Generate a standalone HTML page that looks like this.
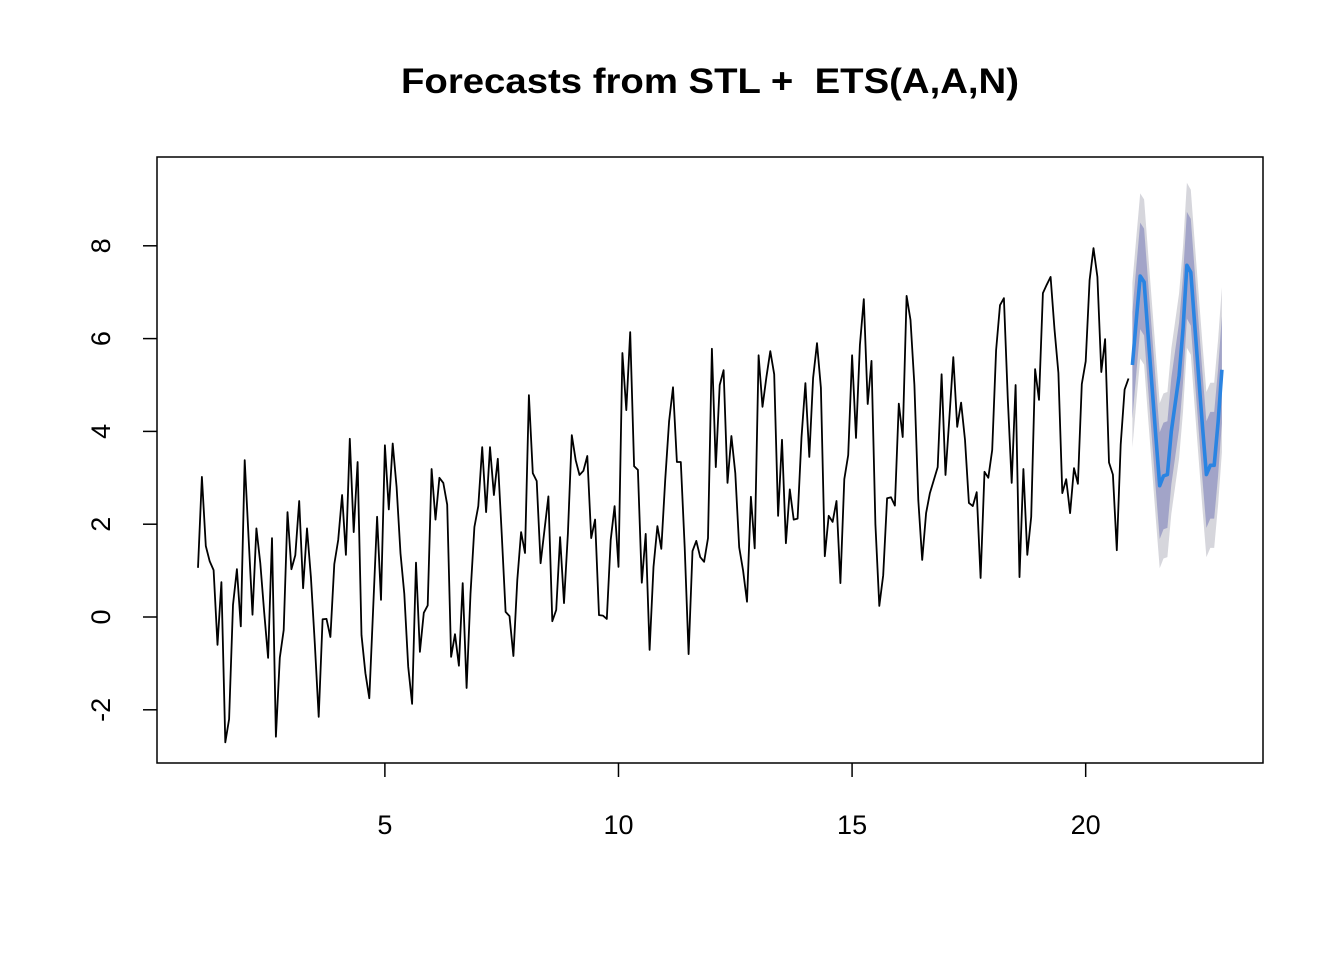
<!DOCTYPE html>
<html><head><meta charset="utf-8"><style>
html,body{margin:0;padding:0;background:#fff}
svg{display:block;font-family:"Liberation Sans",Arial,sans-serif}
</style></head><body>
<svg id="chart" width="1344" height="960" viewBox="0 0 1344 960" xmlns="http://www.w3.org/2000/svg">
<text x="710" y="93" text-anchor="middle" font-size="35" font-weight="bold" textLength="618" lengthAdjust="spacingAndGlyphs" xml:space="preserve">Forecasts from STL +  ETS(A,A,N)</text>
<rect x="157" y="157" width="1106" height="606" fill="none" stroke="#000" stroke-width="1.5"/>
<g id="bands"></g><g id="series"></g><g id="axes"></g>
</svg>
<script>
const startTime = 1;
const freq = 12;
const history = [1.06,3.02,1.53,1.2,1.01,-0.6,0.75,-2.7,-2.2,0.26,1.03,-0.2,3.38,1.7,0.05,1.91,1.16,0.1,-0.88,1.7,-2.58,-0.88,-0.28,2.26,1.03,1.33,2.5,0.62,1.91,0.86,-0.57,-2.15,-0.05,-0.04,-0.43,1.14,1.66,2.63,1.34,3.84,1.83,3.34,-0.39,-1.21,-1.75,0.2,2.16,0.37,3.7,2.32,3.74,2.8,1.37,0.5,-1.07,-1.87,1.17,-0.75,0.09,0.25,3.19,2.1,3.0,2.89,2.42,-0.86,-0.37,-1.05,0.73,-1.53,0.5,1.94,2.39,3.66,2.26,3.66,2.63,3.41,1.8,0.11,0.02,-0.84,0.8,1.83,1.38,4.78,3.1,2.93,1.16,1.88,2.6,-0.09,0.15,1.72,0.3,1.8,3.92,3.38,3.06,3.15,3.47,1.7,2.1,0.04,0.03,-0.04,1.66,2.39,1.08,5.69,4.46,6.14,3.25,3.17,0.74,1.79,-0.71,1.08,1.96,1.47,2.95,4.22,4.95,3.34,3.34,1.5,-0.8,1.42,1.64,1.29,1.19,1.7,5.78,3.23,5.0,5.32,2.89,3.9,3.1,1.5,1.0,0.33,2.59,1.48,5.64,4.53,5.17,5.73,5.23,2.18,3.82,1.59,2.75,2.1,2.12,3.87,5.04,3.45,5.15,5.9,4.94,1.31,2.18,2.05,2.5,0.73,2.97,3.49,5.64,3.86,5.86,6.85,4.59,5.52,2.0,0.24,0.9,2.56,2.58,2.4,4.6,3.88,6.92,6.4,5.0,2.52,1.23,2.24,2.67,2.95,3.23,5.23,3.06,4.3,5.6,4.1,4.62,3.82,2.46,2.39,2.69,0.84,3.13,3.0,3.6,5.75,6.72,6.87,4.7,2.89,5.0,0.86,3.19,1.34,2.16,5.34,4.68,6.98,7.16,7.33,6.2,5.26,2.67,2.97,2.24,3.21,2.87,5.02,5.51,7.26,7.95,7.33,5.28,5.99,3.33,3.07,1.44,3.72,4.9,5.14];
const forecast = [5.43,6.4,7.35,7.22,6.1,5.0,3.9,2.83,3.04,3.07,4.0,4.6,5.2,6.2,7.58,7.43,6.3,5.2,4.1,3.07,3.27,3.27,4.2,5.33];
const hi80 = [6.58,7.55,8.5,8.37,7.25,6.15,5.05,3.98,4.19,4.22,5.15,5.75,6.35,7.35,8.73,8.58,7.45,6.35,5.25,4.22,4.42,4.42,5.35,6.48];
const lo80 = [4.28,5.25,6.2,6.07,4.95,3.85,2.75,1.68,1.89,1.92,2.85,3.45,4.05,5.05,6.43,6.28,5.15,4.05,2.95,1.92,2.12,2.12,3.05,4.18];
const hi95 = [7.21,8.18,9.13,9.0,7.88,6.78,5.68,4.61,4.82,4.85,5.78,6.38,6.98,7.98,9.36,9.21,8.08,6.98,5.88,4.85,5.05,5.05,5.98,7.11];
const lo95 = [3.65,4.62,5.57,5.44,4.32,3.22,2.12,1.05,1.26,1.29,2.22,2.82,3.42,4.42,5.8,5.65,4.52,3.42,2.32,1.29,1.49,1.49,2.42,3.55];
const xTicks = [5,10,15,20];
const yTicks = [-2,0,2,4,6,8];

const NS = "http://www.w3.org/2000/svg";
function X(t){ return 198 + (t-1)*46.72; }
function Y(v){ return 617 - v*46.4; }
function tOf(i){ return startTime + i/freq; }
function mk(tag, attrs, parent){
  const e=document.createElementNS(NS,tag);
  for(const k in attrs) e.setAttribute(k,attrs[k]);
  parent.appendChild(e); return e;
}
const n = history.length;
function bandPath(lo,hi){
  let d="";
  hi.forEach((v,i)=>{ d+=(i?"L":"M")+X(tOf(n+i)).toFixed(1)+","+Y(v).toFixed(1); });
  for(let i=lo.length-1;i>=0;i--) d+="L"+X(tOf(n+i)).toFixed(1)+","+Y(lo[i]).toFixed(1);
  return d+"Z";
}
const bands=document.getElementById('bands');
const b95=mk('path',{d:bandPath(lo95,hi95),fill:'#d6d6dc',stroke:'none'},bands);


const b80=mk('path',{d:bandPath(lo80,hi80),fill:'#a2a4c8',stroke:'none'},bands);



const series=document.getElementById('series');
const hl=mk('polyline',{points:history.map((v,i)=>X(tOf(i)).toFixed(1)+","+Y(v).toFixed(1)).join(" "),fill:'none',stroke:'#000','stroke-width':1.8,'stroke-linejoin':'round'},series);


const fl=mk('polyline',{points:forecast.map((v,i)=>X(tOf(n+i)).toFixed(1)+","+Y(v).toFixed(1)).join(" "),fill:'none',stroke:'#2a84e2','stroke-width':3.6,'stroke-linejoin':'round'},series);



const axes=document.getElementById('axes');
xTicks.forEach(t=>{
  const x=X(t);
  const tk=mk('line',{x1:x,y1:763,x2:x,y2:777,stroke:'#000','stroke-width':1.5},axes);
  
  
  const lb=mk('text',{x:x,y:834,'text-anchor':'middle','font-size':27},axes);
  lb.textContent=t;
  
  
});
yTicks.forEach(v=>{
  const y=Y(v);
  const tk=mk('line',{x1:143,y1:y,x2:157,y2:y,stroke:'#000','stroke-width':1.5},axes);
  
  
  const lb=mk('text',{x:110,y:y,'text-anchor':'middle','font-size':27,transform:'rotate(-90 110 '+y+')'},axes);
  lb.textContent=v;
  
  
});
</script>
</body></html>
